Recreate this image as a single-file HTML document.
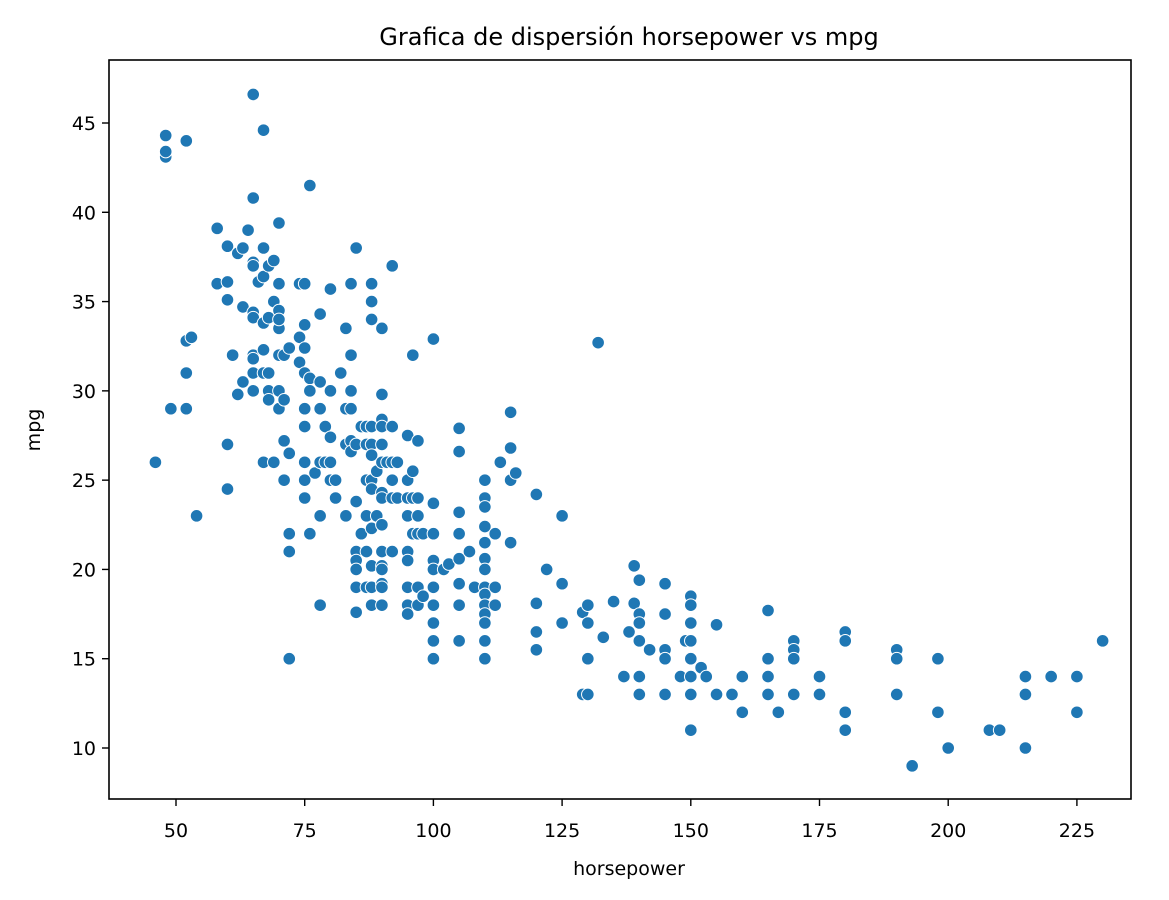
<!DOCTYPE html>
<html><head><meta charset="utf-8"><style>
html,body{margin:0;padding:0;background:#fff;}
svg{display:block;font-family:"DejaVu Sans","Liberation Sans",sans-serif;}
</style></head><body>
<svg id="chart" width="1169" height="900">
<rect x="0" y="0" width="1169" height="900" fill="#fff"/>
<text x="629" y="45" font-size="24" text-anchor="middle">Grafica de dispersión horsepower vs mpg</text>
<g id="points"></g>
<g id="axes"></g>
<rect x="109" y="60" width="1022" height="739" fill="none" stroke="#000" stroke-width="1.6"/>
<text x="629" y="875" font-size="19" text-anchor="middle">horsepower</text>
<text x="0" y="0" font-size="19" text-anchor="middle" transform="translate(40,430) rotate(-90)">mpg</text>
</svg>
<script>
const hp=[46,48,48,48,49,52,52,52,53,54,52,58,58,60,60,60,60,60,61,62,62,63,63,63,64,65,65,65,65,65,65,65,65,65,65,66,67,67,67,67,67,67,67,68,68,68,68,68,69,69,69,70,70,70,70,70,70,70,70,71,71,71,71,72,72,72,72,72,74,74,74,75,75,75,75,75,75,75,75,75,76,76,76,76,77,78,78,78,78,78,78,79,79,80,80,80,80,80,81,81,82,83,83,83,83,84,84,84,84,84,84,85,85,85,85,85,85,85,85,86,86,87,87,87,87,87,87,88,88,88,88,88,88,88,88,88,88,88,88,89,89,90,90,90,90,90,90,90,90,90,90,90,90,90,90,90,91,92,92,92,92,92,92,93,93,95,95,95,95,95,95,95,95,95,96,96,96,96,97,97,97,97,97,97,98,98,100,100,100,100,100,100,100,100,100,100,102,103,105,105,105,105,105,105,105,105,107,108,110,110,110,110,110,110,110,110,110,110,110,110,110,110,112,112,112,113,115,115,115,115,116,120,120,120,120,122,125,125,125,129,129,130,130,130,130,132,133,135,137,138,139,139,140,140,140,140,140,140,142,145,145,145,145,145,148,149,150,150,150,150,150,150,150,150,152,153,155,155,158,160,160,165,165,165,165,167,170,170,170,170,175,175,180,180,180,180,190,190,190,193,198,198,200,208,210,215,215,215,220,225,225,230];
const mpg=[26,43.1,43.4,44.3,29,29,31,32.8,33,23,44,36,39.1,38.1,36.1,35.1,27,24.5,32,37.7,29.8,38,34.7,30.5,39,46.6,40.8,37.2,37,34.4,34.1,32,31.8,30,31,36.1,44.6,38,36.4,33.8,32.3,31,26,37,34.1,31,30,29.5,37.3,35,26,39.4,36,34.5,33.5,34,32,30,29,29.5,27.2,25,32,32.4,26.5,22,21,15,36,33,31.6,36,33.7,32.4,31,29,28,26,25,24,41.5,30.7,30,22,25.4,34.3,30.5,29,26,23,18,28,26,35.7,30,27.4,26,25,25,24,31,33.5,29,27,23,36,32,30,29,27.2,26.6,38,27,23.8,21,20.5,20,19,17.6,28,22,28,27,25,23,21,19,36,35,34,28,27,26.4,25,24.5,22.3,20.2,19,18,25.5,23,33.5,29.8,28.4,28,27,26,24.3,24,22.5,21,20.2,20,19.2,19,18,26,37,28,26,25,24,21,26,24,27.5,25,24,23,21,20.5,19,18,17.5,32,25.5,24,22,27.2,24,23,22,19,18,18.5,22,32.9,23.7,22,20.5,20,19,18,17,16,15,20,20.3,27.9,26.6,23.2,22,20.6,19.2,18,16,21,19,25,24,23.5,22.4,21.5,20.6,20,19,18.6,18,17.5,17,16,15,22,19,18,26,28.8,26.8,25,21.5,25.4,24.2,18.1,16.5,15.5,20,23,19.2,17,17.6,13,18,17,15,13,32.7,16.2,18.2,14,16.5,20.2,18.1,19.4,17.5,17,16,14,13,15.5,19.2,17.5,15.5,15,13,14,16,18.5,18,17,16,15,14,13,11,14.5,14,16.9,13,13,14,12,17.7,15,14,13,12,16,15.5,15,13,14,13,16.5,16,12,11,15.5,15,13,9,15,12,10,11,11,14,13,10,14,14,12,16];
const xTicks=[50,75,100,125,150,175,200,225];
const yTicks=[10,15,20,25,30,35,40,45];
const X=v=>176+(v-50)*5.148;
const Y=v=>748-(v-10)*17.857;
const NS="http://www.w3.org/2000/svg";
const pts=document.getElementById('points');
for(let i=0;i<hp.length;i++){
  const c=document.createElementNS(NS,'circle');
  c.setAttribute('cx',X(hp[i]));c.setAttribute('cy',Y(mpg[i]));c.setAttribute('r',6.3);
  c.setAttribute('fill','#1f77b4');c.setAttribute('stroke','#fff');c.setAttribute('stroke-width','1');
  
  
  pts.appendChild(c);
}
const ax=document.getElementById('axes');
xTicks.forEach(t=>{
  const l=document.createElementNS(NS,'line');
  l.setAttribute('x1',X(t));l.setAttribute('x2',X(t));l.setAttribute('y1',799);l.setAttribute('y2',806);l.setAttribute('stroke','#000');l.setAttribute('stroke-width','1.4');
  
  
  ax.appendChild(l);
  const tx=document.createElementNS(NS,'text');
  tx.setAttribute('x',X(t));tx.setAttribute('y',837);tx.setAttribute('font-size','19');tx.setAttribute('text-anchor','middle');
  tx.textContent=t;
  
  
  ax.appendChild(tx);
});
yTicks.forEach(t=>{
  const l=document.createElementNS(NS,'line');
  l.setAttribute('x1',102);l.setAttribute('x2',109);l.setAttribute('y1',Y(t));l.setAttribute('y2',Y(t));l.setAttribute('stroke','#000');l.setAttribute('stroke-width','1.4');
  
  
  ax.appendChild(l);
  const tx=document.createElementNS(NS,'text');
  tx.setAttribute('x',96);tx.setAttribute('y',Y(t)+7);tx.setAttribute('font-size','19');tx.setAttribute('text-anchor','end');
  tx.textContent=t;
  
  
  ax.appendChild(tx);
});
</script>
</body></html>
